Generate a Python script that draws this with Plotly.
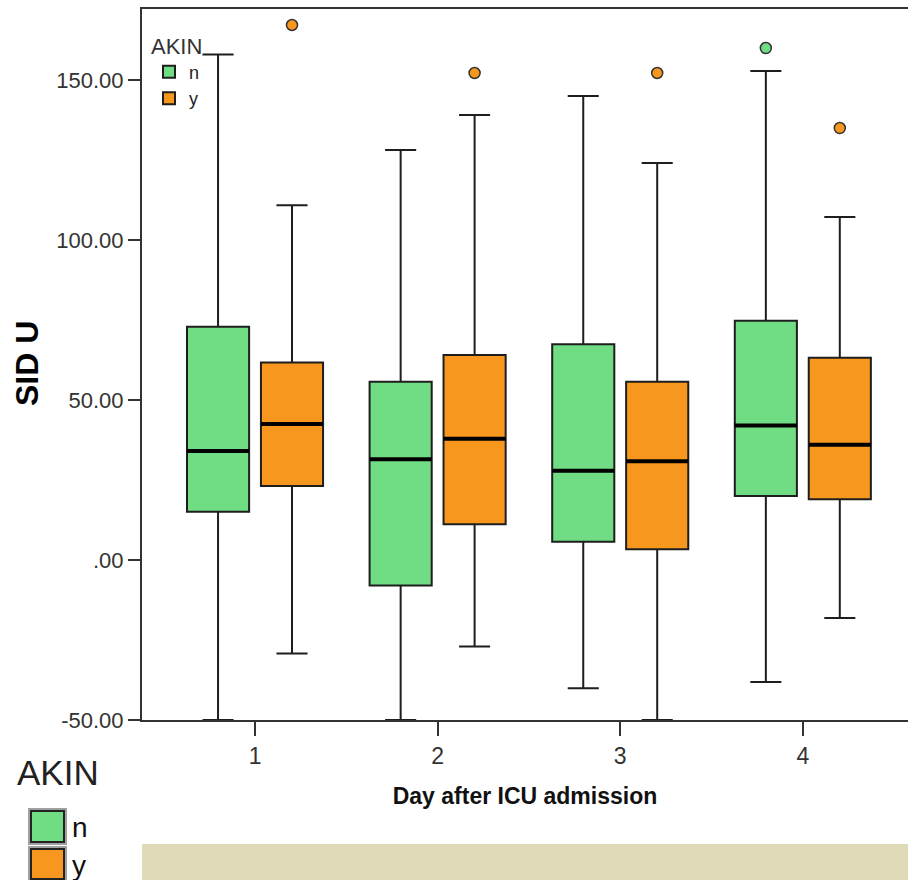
import plotly.graph_objects as go

# ---- data ----
days = ["1", "2", "3", "4"]

n_lower  = [-50.0, -50.0, -40.1, -38.1]
n_q1     = [15.1, -8.0, 5.7, 20.0]
n_median = [34.1, 31.5, 27.9, 42.0]
n_q3     = [72.9, 55.7, 67.4, 74.8]
n_upper  = [158.0, 128.1, 145.0, 152.8]

y_lower  = [-29.2, -27.0, -50.0, -18.1]
y_q1     = [23.1, 11.2, 3.4, 19.0]
y_median = [42.5, 37.9, 30.9, 36.0]
y_q3     = [61.7, 64.1, 55.7, 63.2]
y_upper  = [110.9, 139.1, 124.1, 107.2]

n_out_days = ["4"]
n_out      = [160.0]
y_out_days = ["1", "2", "3", "4"]
y_out      = [167.2, 152.2, 152.2, 135.0]

y_ticks      = [-50, 0, 50, 100, 150]
y_tick_text  = ["-50.00", ".00", "50.00", "100.00", "150.00"]

GREEN = "#70DC83"
ORANGE = "#F7971E"
LINE = "#1e1e1e"
AXC = "#333333"
SANS = "Liberation Sans, Arial, sans-serif"

W, H = 908, 880
ML, MR, MT, MB = 142, 0, 9, 160
PW, PH = W - ML - MR, H - MT - MB


def px(x):  # screen pixel -> paper
    return (x - ML) / PW


def py(y):
    return (MT + PH - y) / PH


fig = go.Figure()

for name, color, q1, med, q3, lo, hi in [
    ("n", GREEN, n_q1, n_median, n_q3, n_lower, n_upper),
    ("y", ORANGE, y_q1, y_median, y_q3, y_lower, y_upper),
]:
    fig.add_trace(go.Box(
        name=name, x=days, q1=q1, median=med, q3=q3,
        lowerfence=lo, upperfence=hi,
        fillcolor=color, line=dict(color=LINE, width=2),
        whiskerwidth=0.5, boxpoints=False, offsetgroup=name,
        legend="legend", hoverinfo="skip",
    ))

# thick median bars
for name, med in [("n", n_median), ("y", y_median)]:
    fig.add_trace(go.Box(
        name=name + " median", x=days, q1=med, median=med, q3=med,
        lowerfence=med, upperfence=med,
        fillcolor="rgba(0,0,0,0)", line=dict(color="#000000", width=4),
        whiskerwidth=0, boxpoints=False, offsetgroup=name,
        showlegend=False, hoverinfo="skip",
    ))

# outliers
for name, color, xs, ys in [("n", GREEN, n_out_days, n_out), ("y", ORANGE, y_out_days, y_out)]:
    fig.add_trace(go.Scatter(
        x=xs, y=ys, mode="markers", offsetgroup=name, showlegend=False,
        marker=dict(symbol="circle", size=11, color=color,
                    line=dict(color="#333333", width=1.5)),
        hoverinfo="skip",
    ))

shapes = []
annotations = []

# beige strip at bottom
shapes.append(dict(type="rect", xref="paper", yref="paper",
                   x0=px(142), x1=px(910), y0=py(882), y1=py(844),
                   fillcolor="#DFDBB8", line=dict(width=0), layer="below"))

# outer legend (decorative, large)
annotations.append(dict(xref="paper", yref="paper", x=px(15), y=py(772),
                        xanchor="left", yanchor="middle", showarrow=False,
                        text="AKIN", font=dict(family=SANS, size=35, color="#222222")))
for label, color, top, bot in [("n", GREEN, 811, 842), ("y", ORANGE, 849, 879)]:
    shapes.append(dict(type="rect", xref="paper", yref="paper",
                       x0=px(29), x1=px(66), y0=py(bot + 2), y1=py(top - 2),
                       fillcolor="rgba(0,0,0,0)", line=dict(color="#a0a0a0", width=2)))
    shapes.append(dict(type="rect", xref="paper", yref="paper",
                       x0=px(31), x1=px(64), y0=py(bot), y1=py(top),
                       fillcolor=color, line=dict(color="#222222", width=2)))
    annotations.append(dict(xref="paper", yref="paper", x=px(70), y=py((top + bot) / 2 + 1),
                            xanchor="left", yanchor="middle", showarrow=False,
                            text=label, font=dict(family=SANS, size=28, color="#111111")))

# y-axis title
annotations.append(dict(xref="paper", yref="paper", x=px(27), y=py(364),
                        xanchor="center", yanchor="middle", showarrow=False,
                        text="<b>SID U</b>", textangle=-90,
                        font=dict(family=SANS, size=32, color="#000000")))

fig.update_layout(
    width=W, height=H,
    margin=dict(l=ML, r=MR, t=MT, b=MB, pad=0),
    paper_bgcolor="white", plot_bgcolor="white",
    boxmode="group", boxgap=0.19, boxgroupgap=0.16,
    scattermode="group", scattergap=0.19,
    shapes=shapes, annotations=annotations,
    legend=dict(
        title=dict(text="AKIN", font=dict(family=SANS, size=22, color="#333333")),
        x=px(149), y=py(25), xanchor="left", yanchor="top",
        bgcolor="rgba(0,0,0,0)", font=dict(family=SANS, size=18, color="#222222"),
        tracegroupgap=0, itemwidth=30,
    ),
    xaxis=dict(
        type="category", categoryorder="array", categoryarray=days,
        range=[-0.619, 3.576],
        showline=True, linecolor=AXC, linewidth=2, mirror=True,
        ticks="outside", ticklen=14, tickwidth=2, tickcolor=AXC,
        tickfont=dict(family=SANS, size=23, color="#333333"),
        showgrid=False, zeroline=False,
        title=dict(text="<b>Day after ICU admission</b>", standoff=20,
                   font=dict(family=SANS, size=23, color="#111111")),
    ),
    yaxis=dict(
        range=[-50, 172.2],
        tickvals=y_ticks, ticktext=y_tick_text,
        showline=True, linecolor=AXC, linewidth=2, mirror=False,
        ticks="outside", ticklen=12, tickwidth=2, tickcolor=AXC,
        tickfont=dict(family=SANS, size=22, color="#333333"),
        showgrid=False, zeroline=False,
    ),
)

# remove the default page margin so the 908x880 figure fills the window exactly
fig.write_html(
    "out.html",
    config={"displayModeBar": False},
    post_script="document.body.style.margin='0';document.body.style.overflow='hidden';",
)
